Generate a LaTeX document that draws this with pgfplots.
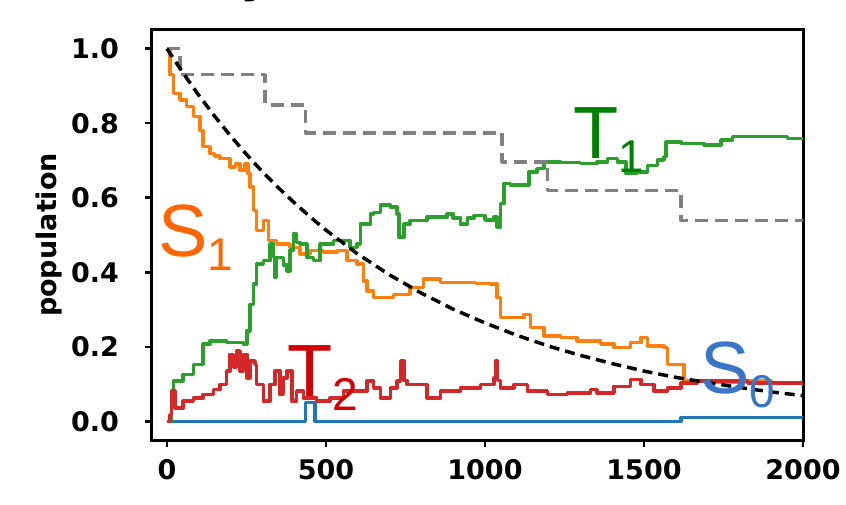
\documentclass[border=0pt]{standalone}
\usepackage{fontspec}
\usepackage{pgfplots}
\pgfplotsset{compat=1.18}
\usetikzlibrary{calc}
\newfontfamily\dejavu{DejaVu Sans}
\newfontfamily\arialish{Liberation Sans}
\definecolor{tabblue}{HTML}{1F77B4}
\definecolor{taborange}{HTML}{FF7F0E}
\definecolor{tabgreen}{HTML}{2CA02C}
\definecolor{tabred}{HTML}{D62728}
\definecolor{lblSone}{HTML}{FF6600}
\definecolor{lblTone}{HTML}{008000}
\definecolor{lblTtwo}{HTML}{D40000}
\definecolor{lblSzero}{HTML}{3A76C8}
\newcommand\tickfont{\dejavu\bfseries\fontsize{13.5pt}{16pt}\selectfont}
\newcommand\tagfont{\arialish\fontsize{37pt}{40pt}\selectfont}
\newcommand\subfont{\arialish\fontsize{23pt}{26pt}\selectfont}
\newcommand\lbl[2]{{\tagfont #1\raisebox{-7pt}{\subfont #2}}}

\begin{document}
\begin{tikzpicture}
\begin{axis}[
  width=325.5pt, height=205pt, scale only axis,
  xmin=-47, xmax=2000, ymin=-0.05, ymax=1.05,
  xtick={0,500,1000,1500,2000},
  ytick={0,0.2,0.4,0.6,0.8,1.0},
  tick pos=left, tick align=outside,
  major tick length=3.5pt,
  tick style={black, line width=1.3pt},
  axis line style={line width=1.5pt},
  ticklabel style={font=\tickfont},
  /pgf/number format/assume math mode=true,
  x tick label style={/pgf/number format/1000 sep={}, yshift=-2.5pt},
  y tick label style={/pgf/number format/fixed, /pgf/number format/fixed zerofill, /pgf/number format/precision=1, xshift=-9.5pt},
  ylabel={population},
  ylabel style={font=\tickfont, at={(axis description cs:0,0.5)}, anchor=center, yshift=51.5pt},
  every axis plot/.append style={line width=1.75pt, line join=round},
]
\coordinate (sw) at (rel axis cs:0,0);
\coordinate (ne) at (rel axis cs:1,1);

% S0
\addplot[const plot, tabblue] coordinates {(0,0)(435,0.05)(466,0)(1616,0.01)(2000,0.01)};
% S1
\addplot[const plot, taborange] coordinates {
(0,1.0)(10,0.93)(20,0.88)(41,0.862)(62,0.845)(83,0.818)(104,0.78)(114,0.737)
(135,0.719)(150,0.712)(167,0.705)(198,0.683)(215,0.69)(230,0.674)(245,0.69)(255,0.665)
(261,0.629)(272,0.566)(282,0.512)(303,0.539)(319,0.485)(345,0.476)(387,0.467)
(419,0.449)(450,0.458)(492,0.455)(534,0.458)(566,0.431)(597,0.422)(618,0.377)
(629,0.35)(650,0.332)(713,0.341)(765,0.359)(807,0.382)(860,0.373)(923,0.373)
(970,0.37)(1017,0.368)(1038,0.332)(1049,0.278)(1091,0.278)(1122,0.287)(1143,0.252)
(1185,0.229)(1238,0.225)(1290,0.216)(1364,0.207)(1406,0.198)(1458,0.211)(1490,0.225)
(1511,0.202)(1563,0.198)(1574,0.153)(1616,0.153)(1626,0.108)(1700,0.104)(1800,0.108)
(1900,0.104)(2000,0.104)};
% T1
\addplot[const plot, tabgreen] coordinates {
(0,0)(10,0.0)(15,0.081)(20,0.108)(51,0.126)(83,0.153)(114,0.207)(135,0.216)(188,0.211)
(240,0.207)(251,0.243)(261,0.314)(272,0.368)(282,0.422)(303,0.431)(324,0.476)(335,0.44)
(340,0.386)(345,0.44)(356,0.44)(366,0.42)(377,0.404)(387,0.46)(398,0.503)(408,0.48)
(419,0.476)(440,0.44)(461,0.431)(482,0.476)(524,0.485)(576,0.467)(597,0.476)(608,0.53)
(629,0.53)(640,0.557)(650,0.561)(671,0.58)(703,0.575)(724,0.557)(729,0.494)(745,0.53)
(765,0.539)(818,0.548)(881,0.557)(900,0.545)(923,0.53)(945,0.545)(965,0.552)(1000,0.54)
(1028,0.548)(1038,0.521)(1049,0.584)(1060,0.638)(1080,0.634)(1133,0.634)(1138,0.669)
(1164,0.678)(1185,0.696)(1238,0.694)(1301,0.692)(1353,0.696)(1385,0.705)(1416,0.696)
(1443,0.665)(1479,0.669)(1511,0.687)(1542,0.701)(1563,0.71)(1569,0.75)(1616,0.746)
(1689,0.741)(1742,0.755)(1778,0.764)(1878,0.764)(1952,0.759)(2000,0.755)};
% T2
\addplot[const plot, tabred] coordinates {
(0,0)(9,0.018)(15,0.081)(25,0.036)(51,0.054)(83,0.063)(114,0.072)(146,0.085)(167,0.099)
(188,0.135)(198,0.18)(209,0.144)(219,0.189)(230,0.135)(240,0.18)(251,0.117)(261,0.162)
(277,0.153)(282,0.099)(303,0.054)(324,0.099)(340,0.135)(356,0.072)(366,0.117)(377,0.135)
(393,0.054)(408,0.081)(429,0.063)(471,0.054)(513,0.063)(555,0.081)(597,0.081)(629,0.108)
(650,0.09)(671,0.063)(703,0.09)(724,0.108)(735,0.162)(745,0.11)(755,0.099)(797,0.099)
(818,0.063)(860,0.081)(923,0.09)(986,0.099)(1028,0.117)(1033,0.162)(1040,0.11)(1049,0.09)
(1091,0.099)(1133,0.081)(1196,0.072)(1259,0.076)(1332,0.085)(1353,0.076)(1406,0.094)
(1458,0.112)(1490,0.099)(1532,0.081)(1574,0.09)(1616,0.103)(1668,0.108)(1826,0.103)
(2000,0.103)};
% reference steps
\addplot[const plot, gray, dash pattern=on 6.5pt off 3.5pt] coordinates {
(0,1.0)(41,0.93)(309,0.849)(435,0.774)(1054,0.696)(1196,0.62)(1616,0.539)(2000,0.539)};
% decay
\addplot[black, dash pattern=on 5pt off 3pt] coordinates {
(0,1.0)(50,0.9355)(100,0.875)(150,0.8187)(200,0.766)(250,0.7165)(300,0.670)(350,0.6271)
(400,0.587)(450,0.5488)(500,0.513)(600,0.449)(700,0.393)(800,0.344)(900,0.301)(1000,0.264)
(1100,0.231)(1200,0.202)(1300,0.177)(1400,0.155)(1500,0.135)(1600,0.118)(1700,0.104)
(1800,0.091)(1900,0.079)(2000,0.069)};

\node[anchor=base west, inner sep=0pt, text=lblSone] at (axis cs:-28,0.442) {\lbl{S}{1}};
\node[anchor=base west, inner sep=0pt, text=lblTone] at (axis cs:1276,0.706) {\lbl{T}{1}};
\node[anchor=base west, inner sep=0pt, text=lblTtwo] at (axis cs:378,0.067) {\lbl{T}{2}};
\node[anchor=base west, inner sep=0pt, text=lblSzero] at (axis cs:1676,0.075) {\lbl{S}{0}};
\end{axis}
\node[anchor=base west, inner sep=0pt, font=\dejavu\bfseries\fontsize{24pt}{28pt}\selectfont] at ($(sw|-ne)+(44pt,19pt)$) {y};
\pgfresetboundingbox
\path[use as bounding box] ($(sw)+(-76pt,-32pt)$) rectangle ($(ne)+(21.5pt,15pt)$);
\end{tikzpicture}
\end{document}
